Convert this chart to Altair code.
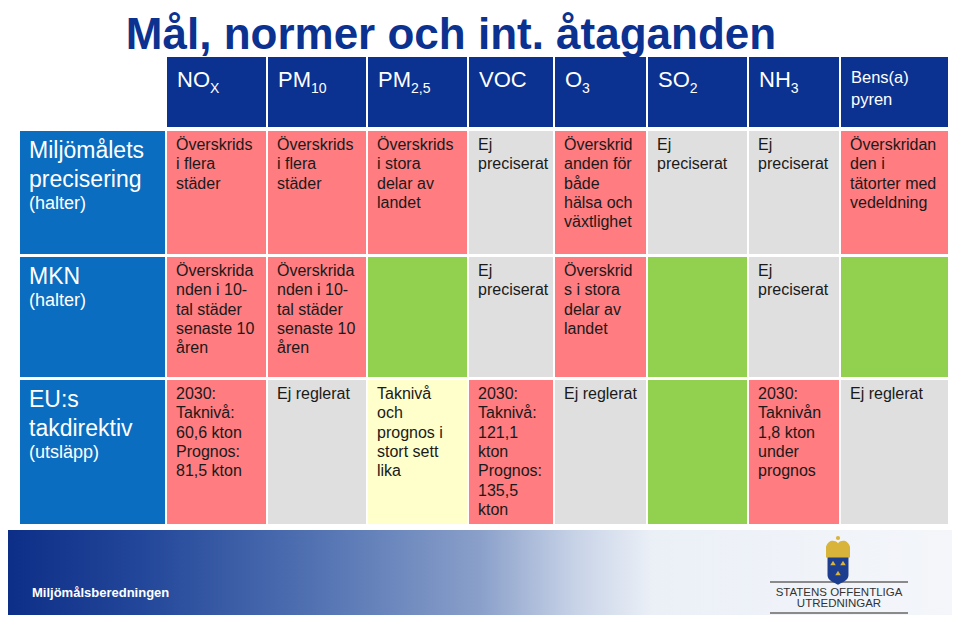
import altair as alt
import pandas as pd

# ---------------- data ----------------
title = "Mål, normer och int. åtaganden"
pollutant_main = ["NO", "PM", "PM", "VOC", "O", "SO", "NH", "Bens(a)\npyren"]
pollutant_sub = ["X", "10", "2,5", "", "3", "2", "3", ""]
row_titles = ["Miljömålets\nprecisering", "MKN", "EU:s\ntakdirektiv"]
row_units = ["(halter)", "(halter)", "(utsläpp)"]

row1_text = [
    "Överskrids\ni flera\nstäder",
    "Överskrids\ni flera\nstäder",
    "Överskrids\ni stora\ndelar av\nlandet",
    "Ej\npreciserat",
    "Överskrid\nanden för\nbåde\nhälsa och\nväxtlighet",
    "Ej\npreciserat",
    "Ej\npreciserat",
    "Överskridan\nden i\ntätorter med\nvedeldning",
]
row1_status = ["over", "over", "over", "ej", "over", "ej", "ej", "over"]

row2_text = [
    "Överskrida\nnden i 10-\ntal städer\nsenaste 10\nåren",
    "Överskrida\nnden i 10-\ntal städer\nsenaste 10\nåren",
    "",
    "Ej\npreciserat",
    "Överskrid\ns i stora\ndelar av\nlandet",
    "",
    "Ej\npreciserat",
    "",
]
row2_status = ["over", "over", "ok", "ej", "over", "ok", "ej", "ok"]

row3_text = [
    "2030:\nTaknivå:\n60,6 kton\nPrognos:\n81,5 kton",
    "Ej reglerat",
    "Taknivå\noch\nprognos i\nstort sett\nlika",
    "2030:\nTaknivå:\n121,1\nkton\nPrognos:\n135,5\nkton",
    "Ej reglerat",
    "",
    "2030:\nTaknivån\n1,8 kton\nunder\nprognos",
    "Ej reglerat",
]
row3_status = ["over", "ej", "lika", "over", "ej", "ok", "over", "ej"]

status_levels = ["over", "ej", "ok", "lika"]
status_colors = ["#FF7C80", "#DFDFDF", "#92D050", "#FFFFCC"]

footer_text = "Miljömålsberedningen"
logo_lines = ["STATENS OFFENTLIGA", "UTREDNINGAR"]

# ---------------- layout ----------------
W, H, M = 944, 607, 8
FONT = "Liberation Sans, Arial, sans-serif"
HEADER_BLUE = "#0B3290"
LABEL_BLUE = "#0A6DBF"
col_left0 = 167
col_widths = [101, 100, 101, 86, 93, 101, 92, 109]
gap = 2
label_x = (20, 165)
header_y = (57, 127)
row_y = [(131, 254), (257, 377), (380, 524)]

col_l, col_r = [], []
cur = col_left0
for w in col_widths:
    col_l.append(cur)
    col_r.append(cur + w - gap)
    cur += w

# Arial-like advance widths for header subscript placement
adv = {"N": .722, "O": .778, "P": .667, "M": .833, "S": .667, "H": .722, "V": .667, "C": .722}

xs = alt.Scale(domain=[M, M + W], range=[0, W], nice=False, zero=False)
ys = alt.Scale(domain=[M, M + H], range=[0, H], nice=False, zero=False)


def X(f="x"):
    return alt.X(f"{f}:Q", scale=xs, axis=None)


def Y(f="y"):
    return alt.Y(f"{f}:Q", scale=ys, axis=None)


# cells
rows_text = [row1_text, row2_text, row3_text]
rows_status = [row1_status, row2_status, row3_status]
cell_recs = []
for r in range(3):
    for c in range(8):
        cell_recs.append(dict(x=col_l[c], x2=col_r[c], y=row_y[r][0], y2=row_y[r][1],
                              status=rows_status[r][c], text=rows_text[r][c],
                              tx=col_l[c] + 9, ty=row_y[r][0] + 6))
cells = pd.DataFrame(cell_recs)

cell_rects = alt.Chart(cells).mark_rect().encode(
    x=X(), x2="x2", y=Y(), y2="y2",
    color=alt.Color("status:N", scale=alt.Scale(domain=status_levels, range=status_colors), legend=None),
)
cell_texts = alt.Chart(cells).mark_text(
    align="left", baseline="top", lineBreak="\n", lineHeight=19.3, fontSize=16,
    font=FONT, color="#1a1a1a",
).encode(x=X("tx"), y=Y("ty"), text="text:N")

# header
hdr = pd.DataFrame(dict(x=col_l, x2=col_r, y=[header_y[0]] * 8, y2=[header_y[1]] * 8,
                        main=pollutant_main, sub=pollutant_sub))
hdr["tx"] = hdr["x"] + 10
hdr["ty"] = 70
hdr["fs"] = [16.5 if "\n" in m else 22 for m in pollutant_main]
hdr["sx"] = [l + 10 + sum(adv.get(ch, .6) for ch in m) * 22 for l, m in zip(col_l, pollutant_main)]
hdr["sy"] = 82
hdr_rects = alt.Chart(hdr).mark_rect(color=HEADER_BLUE).encode(x=X(), x2="x2", y=Y(), y2="y2")
hdr_main = alt.Chart(hdr).mark_text(
    align="left", baseline="top", lineBreak="\n", lineHeight=22, font=FONT, color="white",
).encode(x=X("tx"), y=Y("ty"), text="main:N", size=alt.Size("fs:Q", scale=None))
hdr_sub = alt.Chart(hdr[hdr["sub"] != ""]).mark_text(
    align="left", baseline="top", fontSize=14, font=FONT, color="white",
).encode(x=X("sx"), y=Y("sy"), text="sub:N")

# row labels
lab = pd.DataFrame(dict(
    x=[label_x[0]] * 3, x2=[label_x[1]] * 3,
    y=[r[0] for r in row_y], y2=[r[1] for r in row_y],
    main=row_titles, unit=row_units,
))
lab["tx"] = label_x[0] + 9
lab["ty"] = lab["y"] + 9
lab["uy"] = [r[0] + 35 + (t.count("\n")) * 29 for r, t in zip(row_y, row_titles)]
lab_rects = alt.Chart(lab).mark_rect(color=LABEL_BLUE).encode(x=X(), x2="x2", y=Y(), y2="y2")
lab_main = alt.Chart(lab).mark_text(
    align="left", baseline="top", lineBreak="\n", lineHeight=29, fontSize=23, font=FONT, color="white",
).encode(x=X("tx"), y=Y("ty"), text="main:N")
lab_unit = alt.Chart(lab).mark_text(
    align="left", baseline="top", fontSize=18, font=FONT, color="white",
).encode(x=X("tx"), y=Y("uy"), text="unit:N")

# title
title_df = pd.DataFrame(dict(x=[451], y=[49], t=[title]))
title_mark = alt.Chart(title_df).mark_text(
    align="center", baseline="alphabetic", fontSize=44, fontWeight="bold", font=FONT, color=HEADER_BLUE,
).encode(x=X(), y=Y(), text="t:N")

# footer band
foot_df = pd.DataFrame(dict(x=[0], x2=[960], y=[530], y2=[623]))
grad = alt.LinearGradient(
    gradient="linear", x1=0, x2=1, y1=0, y2=0,
    stops=[
        alt.GradientStop(color="#0C2D86", offset=0),
        alt.GradientStop(color="#23479A", offset=0.15),
        alt.GradientStop(color="#5272B2", offset=0.33),
        alt.GradientStop(color="#8AA0CA", offset=0.5),
        alt.GradientStop(color="#C8D3E7", offset=0.6),
        alt.GradientStop(color="#EBF0F7", offset=0.68),
        alt.GradientStop(color="#F4F6FA", offset=1),
    ],
)
footer = alt.Chart(foot_df).mark_rect(color=grad).encode(x=X(), x2="x2", y=Y(), y2="y2")
foot_txt = alt.Chart(pd.DataFrame(dict(x=[32], y=[593], t=[footer_text]))).mark_text(
    align="left", baseline="middle", fontSize=13, fontWeight="bold", font=FONT, color="white",
).encode(x=X(), y=Y(), text="t:N")

# logo
logo_rules = alt.Chart(pd.DataFrame(dict(x=[770, 770], x2=[908, 908], y=[582, 613]))).mark_rule(
    color="#8a8a8a", strokeWidth=2
).encode(x=X(), x2="x2", y=Y())
logo_txt = alt.Chart(pd.DataFrame(dict(x=[839, 839], y=[593, 604], t=logo_lines))).mark_text(
    align="center", baseline="middle", fontSize=11.5, font=FONT, color="#333333",
).encode(x=X(), y=Y(), text="t:N")
shield_path = "M-1,-1.4 L1,-1.4 L1,0.6 C1,1.1 0.35,1.3 0,1.5 C-0.35,1.3 -1,1.1 -1,0.6 Z"
crown_path = "M-1,0.8 L-1,-0.1 C-0.8,-0.7 -0.3,-0.7 0,-0.4 C0.3,-0.7 0.8,-0.7 1,-0.1 L1,0.8 Z"
shield = alt.Chart(pd.DataFrame(dict(x=[838], y=[569]))).mark_point(
    shape=shield_path, filled=True, color="#1D3E8F", opacity=1, size=440,
).encode(x=X(), y=Y())
crown = alt.Chart(pd.DataFrame(dict(x=[838], y=[548]))).mark_point(
    shape=crown_path, filled=True, color="#D9B43A", opacity=1, size=576,
).encode(x=X(), y=Y())
orb = alt.Chart(pd.DataFrame(dict(x=[838], y=[538]))).mark_point(
    shape="circle", filled=True, color="#D9B43A", opacity=1, size=18,
).encode(x=X(), y=Y())
mini = alt.Chart(pd.DataFrame(dict(x=[833, 843, 838], y=[563, 563, 573]))).mark_point(
    shape="triangle-up", filled=True, color="#D9B43A", opacity=1, size=30,
).encode(x=X(), y=Y())

chart = alt.layer(
    footer, title_mark, hdr_rects, hdr_main, hdr_sub, lab_rects, lab_main, lab_unit,
    cell_rects, cell_texts, foot_txt, logo_rules, logo_txt, shield, crown, orb, mini,
).properties(
    width=W, height=H, autosize=alt.AutoSizeParams(type="none"), padding=0, background="white",
).configure_view(strokeWidth=0)

chart.save("out.html", embed_options={"renderer": "svg", "actions": False})
